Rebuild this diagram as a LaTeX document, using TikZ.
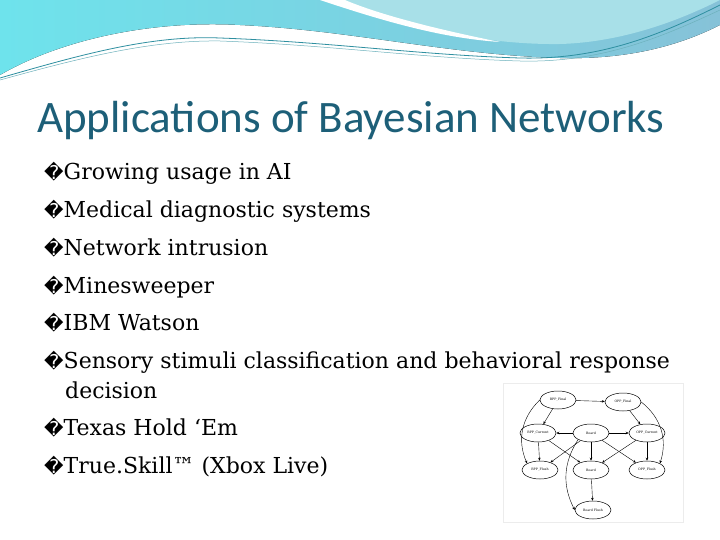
\documentclass[tikz,border=0pt]{standalone}
\usepackage{fontspec}
\setmainfont{DejaVu Serif}
\newfontfamily\titlefont{Carlito}
\newfontfamily\symfont{DejaVu Sans}
\usetikzlibrary{arrows.meta,shapes.geometric}
\definecolor{titlec}{HTML}{1D5F78}
\definecolor{waveA}{HTML}{86C2D8}
\definecolor{waveB}{HTML}{6EE3EC}
\definecolor{waveC}{HTML}{A8E0E8}
\definecolor{linec}{HTML}{2E8FA0}
\tikzset{
  bul/.style={anchor=base west,font=\fontsize{22}{25}\selectfont,inner sep=0},
  gn/.style={draw,ellipse,minimum width=36pt,minimum height=18pt,inner sep=0,font=\fontsize{3.2}{4}\selectfont,line width=0.5pt},
  ge/.style={-{Stealth[length=3pt,width=2.5pt]},line width=0.4pt}
}
\newcommand{\bsym}{{\symfont\fontsize{19}{22}\selectfont\char"FFFD}}
\begin{document}
\begin{tikzpicture}[x=1pt,y=-1pt]
\useasboundingbox (0,0) rectangle (720,540);
\fill[white] (0,0) rectangle (720,540);
% top wave
\fill[left color=waveB,right color=waveA] (0,0) -- (0,75) .. controls (60,40) and (150,20) .. (240,25) .. controls (350,30) and (450,55) .. (560,58) .. controls (640,60) and (690,40) .. (720,25) -- (720,0) -- cycle;
\fill[waveC] (320,0) .. controls (400,25) and (480,45) .. (560,44) .. controls (630,42) and (690,15) .. (720,0) -- cycle;
\fill[white] (320,0) .. controls (380,20) and (440,38) .. (500,42) .. controls (440,30) and (380,15) .. (345,0) -- cycle;
\draw[linec,line width=0.8pt] (0,78) .. controls (80,55) and (150,35) .. (220,38) .. controls (330,42) and (420,55) .. (520,58) .. controls (600,60) and (660,35) .. (720,5);
\draw[linec!70,line width=0.5pt] (0,80) .. controls (80,58) and (150,40) .. (220,41) .. controls (330,45) and (420,58) .. (520,61) .. controls (600,63) and (660,38) .. (720,10);
% title
\node[anchor=base west,inner sep=0,text=titlec,font=\titlefont\fontsize{45}{50}\selectfont] (title) at (37,133) {Applications of Bayesian Networks};
% bullets
\foreach \t/\y [count=\i] in {Growing usage in AI/180, Medical diagnostic systems/218, Network intrusion/255, Minesweeper/293, IBM Watson/330, Sensory stimuli classification and behavioral response/368, Texas Hold ‘Em/435, True.Skill™ (Xbox Live)/473}{
  \node[bul] (b\i) at (44,\y) {\bsym\t};
}
\node[bul] (b6b) at (65,398) {decision};
% graph image
\draw[gray!15,fill=white] (503,383) rectangle (683,522);
\node[gn] (bf) at (558,400) {BPP\_Final};
\node[gn] (of) at (623,402) {OPP\_Final};
\node[gn] (bc) at (538,433) {BPP\_Current};
\node[gn] (bt) at (591,433) {Board};
\node[gn] (oc) at (647,433) {OPP\_Current};
\node[gn] (bfl) at (540,470) {BPP\_Flush};
\node[gn] (bd) at (591,470) {Board};
\node[gn] (ofl) at (647,470) {OPP\_Flush};
\node[gn] (bdf) at (593,510) {Board Flush};
\draw[ge] (bf) -- (of);
\draw[ge] (bf) -- (bc);
\draw[ge] (bf.west) to[bend right=35] (bfl.north west);
\draw[ge] (of) -- (oc);
\draw[ge] (of.east) to[bend left=35] (ofl.north east);
\draw[ge] (bt) -- (bc);
\draw[ge] (bt) -- (oc);
\draw[ge] (bt) -- (bfl);
\draw[ge] (bt) -- (bd);
\draw[ge] (bt) -- (ofl);
\draw[ge] (bt.south west) to[bend right=30] (bdf.west);
\draw[ge] (bc) -- (bfl);
\draw[ge] (bc) -- (bd);
\draw[ge] (oc) -- (ofl);
\draw[ge] (oc) -- (bd);
\draw[ge] (bd) -- (bdf);
\end{tikzpicture}
\end{document}
